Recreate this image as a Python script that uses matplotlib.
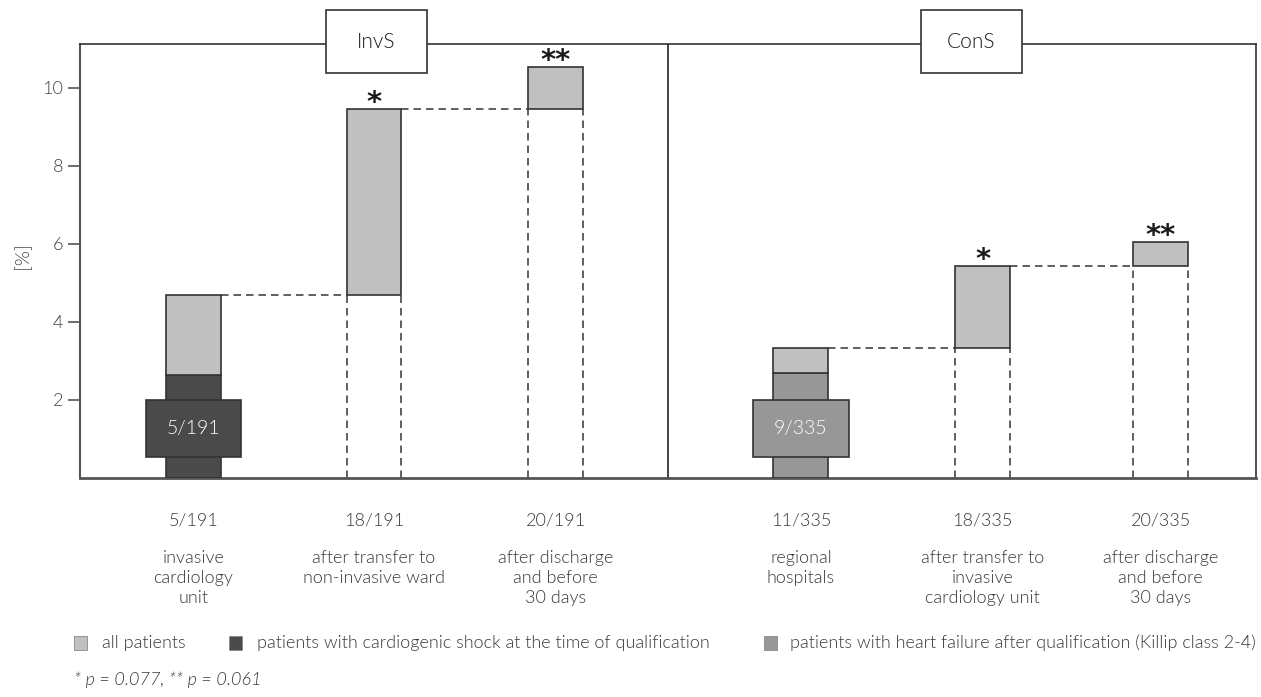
import matplotlib
matplotlib.use("Agg")
import matplotlib.pyplot as plt
from matplotlib.patches import Rectangle

plt.rcParams['font.family'] = ['Lato', 'DejaVu Sans']
plt.rcParams['font.weight'] = 300

# ---------------- data ----------------
groups = ["InvS", "ConS"]
stage_counts = [["5/191", "18/191", "20/191"], ["11/335", "18/335", "20/335"]]
stage_labels = [["invasive\ncardiology\nunit", "after transfer to\nnon-invasive ward",
                 "after discharge\nand before\n30 days"],
                ["regional\nhospitals", "after transfer to\ninvasive\ncardiology unit",
                 "after discharge\nand before\n30 days"]]
all_patients = [[4.70, 9.45, 10.54], [3.33, 5.43, 6.04]]   # cumulative %
subgroup_value = [2.63, 2.68]                               # % subgroup at first stage
subgroup_label = ["5/191", "9/335"]
stars = ["", "*", "**"]
legend_labels = ["all patients", "patients with cardiogenic shock at the time of qualification",
                 "patients with heart failure after qualification (Killip class 2-4)"]
footnote = "* p = 0.077, ** p = 0.061"
yticks = [2, 4, 6, 8, 10]

# ---------------- style ----------------
W, H = 1261, 697
C_ALL = "#c0c0c0"
C_SHOCK = "#4a4a4a"
C_HF = "#979797"
sub_colors = [C_SHOCK, C_HF]
EDGE = "#333333"
TXT = "#3a3a3a"
bar_x = [[0.193, 0.500, 0.809], [1.226, 1.535, 1.838]]
bar_w = 0.0935
box_w = 0.163
box_y0, box_y1 = 0.55, 2.0
head_x = [0.504, 1.516]
FS = 13

def fx(p):
    return p / W

def fy(p):
    return 1 - p / H

fig = plt.figure(figsize=(W / 100, H / 100), dpi=100)
ax = fig.add_axes([fx(80), fy(478), (1256 - 80) / W, (478 - 44) / H])
ax.set_xlim(0, 2)
ax.set_ylim(0, 434 / 39)

for s in ["left", "top", "right"]:
    ax.spines[s].set_color(EDGE)
    ax.spines[s].set_linewidth(1.2)
ax.spines["bottom"].set_color("#555555")
ax.spines["bottom"].set_linewidth(2.0)
ax.spines["left"].set_color("#555555")
ax.spines["left"].set_linewidth(1.5)
ax.set_xticks([])
ax.set_yticks(yticks)
ax.tick_params(axis="y", direction="out", length=9, width=1.2, color="#555555",
               labelsize=13, labelcolor="#444444", pad=3)
ax.axvline(1.0, color="#222222", lw=1.2)

dash = dict(color="#444444", lw=1.2, ls=(0, (4.5, 3)), zorder=1)

for g in range(2):
    vals = all_patients[g]
    xs = bar_x[g]
    x0 = xs[0]
    ax.add_patch(Rectangle((x0 - bar_w / 2, 0), bar_w, subgroup_value[g],
                           facecolor=sub_colors[g], edgecolor=EDGE, lw=1.2, zorder=3))
    ax.add_patch(Rectangle((x0 - bar_w / 2, subgroup_value[g]), bar_w, vals[0] - subgroup_value[g],
                           facecolor=C_ALL, edgecolor=EDGE, lw=1.2, zorder=3))
    ax.add_patch(Rectangle((x0 - box_w / 2, box_y0), box_w, box_y1 - box_y0,
                           facecolor=sub_colors[g], edgecolor=EDGE, lw=1.2, zorder=4))
    ax.text(x0, (box_y0 + box_y1) / 2, subgroup_label[g], color="white", fontsize=14,
            ha="center", va="center", zorder=5)
    for i in (1, 2):
        xi = xs[i]
        lo, hi = vals[i - 1], vals[i]
        ax.add_patch(Rectangle((xi - bar_w / 2, lo), bar_w, hi - lo,
                               facecolor=C_ALL, edgecolor=EDGE, lw=1.2, zorder=3))
        ax.plot([xs[i - 1] + bar_w / 2, xi - bar_w / 2], [lo, lo], **dash)
        ax.plot([xi - bar_w / 2] * 2, [0, lo], **dash)
        ax.plot([xi + bar_w / 2] * 2, [0, lo], **dash)
        ax.text(xi, hi - 0.05, stars[i], fontsize=21, ha="center", va="baseline",
                family="DejaVu Sans", fontweight="bold", color="#1a1a1a", zorder=5)
    for i in range(3):
        xf = ax.transData.transform((bar_x[g][i], 0))[0] / W
        fig.text(xf, fy(520), stage_counts[g][i], ha="center", va="center",
                 fontsize=FS, color=TXT)
        fig.text(xf, fy(550), stage_labels[g][i], ha="center", va="top",
                 fontsize=FS, color=TXT, linespacing=1.3)
    hxf = ax.transData.transform((head_x[g], 0))[0]
    fig.patches.append(Rectangle((fx(hxf - 50.5), fy(73)), 101 / W, 63 / H,
                                 transform=fig.transFigure, facecolor="white",
                                 edgecolor=EDGE, lw=1.2, zorder=5))
    fig.text(fx(hxf), fy(42), groups[g], ha="center", va="center", fontsize=15,
             color="#1a1a1a", zorder=6)

fig.text(fx(22), fy(256), "[%]", rotation=90, ha="center", va="center",
         fontsize=14, color="#444444")

leg_sq = [74, 229, 764]
leg_txt = [102, 257, 790]
leg_cols = [C_ALL, C_SHOCK, C_HF]
for sq, tx, col, lab in zip(leg_sq, leg_txt, leg_cols, legend_labels):
    fig.patches.append(Rectangle((fx(sq), fy(650)), 13 / W, 14 / H, transform=fig.transFigure,
                                 facecolor=col, edgecolor="#888888", lw=0.6))
    fig.text(fx(tx), fy(643), lab, ha="left", va="center", fontsize=FS, color=TXT)

fig.text(fx(74), fy(680), footnote, ha="left", va="center", fontsize=13,
         style="italic", color=TXT)

fig.savefig("out.png", dpi=100)
